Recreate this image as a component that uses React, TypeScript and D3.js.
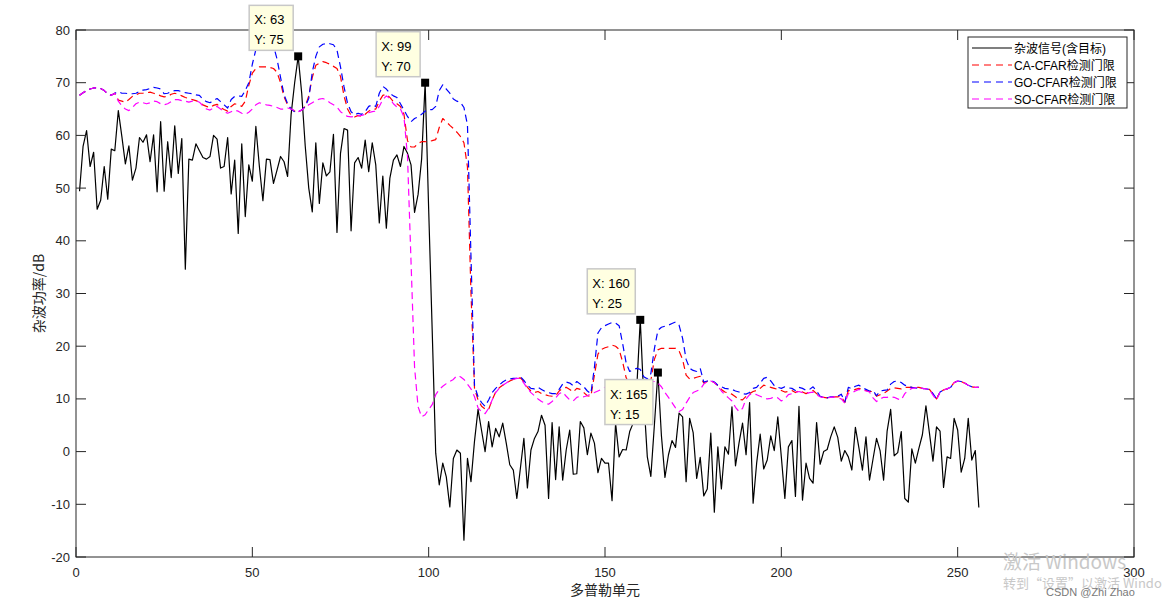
import React from "react";
import * as d3 from "d3";

// ---------- data (cell index 1..256) ----------
const signal: number[] = [
  49.4, 57.9, 60.9, 54.1, 56.8, 46.0, 47.7, 54.1, 47.9, 57.4,
  57.1, 64.7, 59.8, 54.6, 58.0, 51.5, 53.8, 59.6, 58.7, 60.1,
  55.0, 60.1, 49.3, 62.6, 49.4, 58.8, 52.0, 61.8, 52.8, 59.4,
  34.6, 55.5, 55.3, 58.4, 57.1, 55.8, 55.5, 56.0, 60.0, 59.3,
  53.8, 54.1, 59.6, 48.9, 55.3, 41.4, 58.4, 44.6, 54.4, 51.3,
  61.7, 54.1, 47.6, 55.5, 55.4, 50.9, 53.4, 56.0, 55.0, 52.2,
  64.0, 70.0, 75.0, 68.0, 58.0, 50.0, 45.5, 58.6, 47.1, 54.8,
  52.3, 53.1, 60.2, 41.6, 56.6, 61.3, 61.0, 41.9, 54.8, 55.8,
  53.8, 59.1, 53.1, 58.6, 54.4, 43.4, 52.3, 42.4, 51.9, 55.3,
  56.3, 54.1, 57.9, 56.6, 54.4, 45.4, 48.8, 55.5, 70.0, 46.0,
  23.0, -0.3, -6.3, -2.2, -4.8, -10.5, -1.3, 0.3, -0.3, -16.8,
  -1.3, -5.7, 2.0, 8.0, 4.0, 0.0, 5.7, 0.9, 4.4, 2.8,
  5.4, 1.6, -2.5, -3.5, -8.9, -3.2, 2.5, -6.9, 0.3, 2.5,
  3.8, 6.9, 5.0, -8.9, 5.5, -5.3, 4.7, -5.4, 0.3, 4.1,
  -4.3, -4.2, 5.7, 4.5, -0.6, 3.5, 1.6, -4.0, -1.3, -2.2,
  -2.2, -9.3, 5.4, -1.0, 0.4, 0.3, 3.8, 5.4, 12.0, 25.0,
  10.0, -1.0, -4.7, 5.0, 15.0, 3.0, -4.9, -0.6, 2.1, 0.8,
  7.3, 6.6, -5.7, 6.3, 3.6, -5.1, -1.1, -8.4, -7.1, 3.5,
  -11.5, 0.9, -7.1, 0.9, -0.5, 8.5, -2.7, 1.6, 5.4, -0.6,
  9.3, -9.8, -2.2, 3.3, -3.3, -1.6, 3.0, 0.2, 6.6, -1.0,
  -8.9, 0.9, 2.1, -8.5, 8.6, -9.2, -2.2, -5.1, -6.0, 5.5,
  -2.4, 0.0, 0.4, 2.8, 4.7, 2.7, -1.8, 0.2, -1.0, -3.5,
  4.6, 0.7, -3.5, 2.8, -5.4, -1.4, 2.5, 0.2, -5.4, 3.9,
  8.0, -0.8, -0.2, 3.8, -8.9, -9.6, 0.5, -2.2, 0.6, 3.2,
  8.7, 3.5, -1.8, 4.7, 3.9, -6.8, -1.0, -1.3, 6.3, 4.1,
  -3.9, -1.3, 6.3, -1.6, 0.2, -10.6,
];

const caThreshold: number[] = [
  67.6, 68.1, 68.5, 68.8, 69.0, 69.0, 68.9, 68.5, 67.9, 67.6,
  68.0, 66.7, 66.5, 66.3, 66.8, 67.4, 67.7, 68.0, 68.0, 68.1,
  68.2, 68.0, 67.8, 67.5, 67.3, 67.4, 67.8, 68.0, 67.8, 67.5,
  67.2, 67.0, 66.8, 66.6, 66.3, 65.8, 65.5, 65.3, 65.7, 65.9,
  65.3, 64.9, 64.6, 65.5, 66.0, 65.8, 65.5, 66.5, 69.5, 71.8,
  72.7, 73.0, 73.0, 73.0, 72.9, 72.7, 72.0, 70.0, 67.3, 65.8,
  65.0, 64.6, 64.5, 64.8, 65.5, 67.5, 71.0, 73.3, 73.7, 74.0,
  73.8, 73.5, 73.1, 72.7, 71.2, 67.5, 65.0, 63.8, 63.5, 63.8,
  63.6, 64.0, 64.6, 65.0, 65.0, 66.5, 67.6, 67.8, 67.2, 66.4,
  66.0, 65.5, 64.0, 59.0, 57.8, 57.8, 58.5, 58.8, 58.8, 58.9,
  59.0, 59.2, 61.5, 63.2, 62.6, 61.9, 61.3, 60.6, 59.8, 58.6,
  54.0, 30.0, 12.0, 9.8, 8.6, 8.1, 8.0, 9.8, 11.3, 12.1,
  12.6, 13.0, 13.4, 13.7, 13.9, 14.0, 13.3, 12.2, 11.5, 11.2,
  11.4, 11.0, 10.8, 10.6, 10.5, 10.6, 11.5, 12.0, 12.2, 11.8,
  11.3, 12.0, 11.8, 11.2, 10.6, 10.5, 14.5, 18.5, 19.4, 19.7,
  19.9, 20.2, 20.0, 19.4, 17.0, 14.0, 12.8, 13.2, 13.4, 13.3,
  12.5, 12.3, 13.5, 17.5, 19.3, 19.6, 19.6, 19.6, 19.6, 19.6,
  19.1, 17.5, 14.5, 13.8, 13.9, 14.1, 14.3, 13.0, 13.3, 13.4,
  13.1, 12.5, 11.8, 11.3, 11.1, 10.9, 10.4, 9.9, 9.8, 10.5,
  11.0, 11.4, 11.6, 12.0, 12.6, 12.4, 12.2, 12.0, 11.8, 11.6,
  11.3, 11.4, 11.6, 11.2, 11.6, 11.3, 11.0, 11.3, 11.6, 11.0,
  10.4, 10.3, 10.2, 10.4, 10.4, 10.4, 10.5, 9.3, 11.6, 11.5,
  11.8, 12.0, 11.8, 11.6, 11.4, 11.4, 10.5, 10.8, 11.0, 11.5,
  12.0, 12.1, 12.0, 11.9, 12.2, 12.2, 12.2, 12.2, 12.2, 12.0,
  11.9, 11.8, 10.9, 10.0, 11.3, 11.7, 11.9, 12.2, 13.1, 13.4,
  13.3, 13.0, 12.6, 12.3, 12.2, 12.2,
];

const goThreshold: number[] = [
  67.6, 68.1, 68.5, 68.8, 69.0, 69.0, 68.9, 68.5, 67.9, 67.6,
  68.0, 68.3, 68.0, 68.0, 67.9, 67.9, 68.0, 68.3, 68.6, 68.7,
  68.9, 69.1, 69.0, 68.8, 67.9, 68.0, 68.3, 68.5, 68.5, 68.3,
  68.1, 68.0, 67.9, 67.7, 67.6, 66.8, 66.4, 66.2, 66.6, 67.0,
  66.4, 65.8, 65.2, 66.8, 67.4, 67.5, 67.4, 68.5, 70.0, 73.5,
  76.3, 77.5, 77.6, 77.6, 77.5, 77.0, 74.5, 71.0, 67.7, 66.0,
  65.0, 64.5, 64.5, 64.8, 65.5, 67.0, 72.0, 75.0, 76.8, 77.3,
  77.4, 77.4, 77.2, 76.2, 73.0, 69.2, 66.1, 64.5, 63.9, 64.2,
  64.0, 64.5, 65.5, 65.8, 65.5, 68.0, 69.3, 68.8, 68.0, 67.5,
  67.2, 66.0, 64.8, 63.6, 62.6, 63.2, 63.5, 64.0, 64.6, 64.9,
  64.9, 65.5, 68.5, 69.6, 68.8, 68.0, 66.9, 66.5, 66.3, 65.3,
  62.0, 37.0, 12.5, 10.4, 9.3, 8.6, 9.8, 11.2, 12.0, 12.6,
  13.2, 13.6, 13.8, 13.9, 13.9, 14.2, 13.5, 12.6, 12.0, 11.9,
  12.2, 11.8, 11.4, 11.2, 11.0, 11.0, 11.8, 12.8, 13.2, 13.0,
  12.5, 13.3, 12.8, 12.3, 11.5, 11.0, 16.0, 22.5, 23.5, 23.9,
  24.2, 24.5, 24.4, 23.9, 20.5, 16.8, 15.2, 15.6, 15.8, 15.6,
  14.2, 13.8, 14.8, 19.5, 23.0, 23.6, 23.8, 24.0, 24.3, 24.6,
  24.0, 21.5, 17.5, 15.8, 15.4, 15.2, 15.8, 13.2, 13.4, 13.5,
  13.2, 12.6, 12.3, 12.0, 11.9, 11.8, 11.5, 11.3, 11.0, 10.9,
  11.2, 12.0, 12.2, 13.0, 13.9, 14.1, 13.4, 12.5, 12.2, 12.0,
  12.3, 12.1, 12.0, 11.6, 12.2, 12.0, 11.6, 11.8, 12.3, 11.5,
  10.5, 10.3, 10.2, 10.4, 10.4, 10.5, 10.9, 9.4, 12.2, 11.9,
  12.4, 12.6, 12.1, 11.8, 11.5, 11.6, 10.6, 11.5, 11.6, 11.7,
  12.8, 13.3, 13.4, 13.1, 12.6, 12.4, 12.2, 12.1, 12.0, 12.0,
  11.9, 11.8, 11.0, 10.0, 11.3, 11.7, 11.9, 12.2, 13.1, 13.4,
  13.3, 13.0, 12.6, 12.3, 12.2, 12.2,
];

const soThreshold: number[] = [
  67.6, 68.1, 68.5, 68.8, 69.0, 69.0, 68.9, 68.5, 67.9, 67.6,
  68.0, 66.5, 65.6, 65.0, 64.7, 65.3, 66.0, 66.3, 66.2, 66.0,
  66.2, 66.5, 66.4, 66.0, 65.8, 66.0, 66.4, 66.8, 66.8, 66.6,
  66.5, 66.3, 66.5, 66.6, 66.3, 65.6, 65.0, 64.8, 65.2, 65.5,
  65.0, 64.5, 64.2, 64.5, 64.8, 64.6, 64.2, 64.0, 64.4, 65.0,
  65.8, 66.2, 66.0, 65.8, 65.7, 65.5, 65.3, 65.0, 65.0, 65.2,
  65.0, 64.7, 64.5, 64.8, 65.3, 65.8, 66.2, 66.6, 66.9, 67.0,
  66.7, 66.2, 65.8, 65.4, 64.5, 64.0, 63.6, 63.5, 63.6, 63.7,
  63.8, 64.0, 64.3, 64.5, 64.6, 65.5, 66.8, 67.5, 67.0, 66.0,
  65.4, 65.0, 63.5, 56.0, 36.0, 16.0, 8.5, 6.6, 7.0, 8.0,
  8.9, 10.8, 11.8, 12.4, 12.9, 13.3, 13.7, 14.4, 14.2, 13.7,
  12.8, 11.9, 10.4, 8.3, 7.5, 7.2, 8.2, 9.8, 11.2, 12.0,
  12.6, 13.0, 13.5, 13.7, 13.9, 13.9, 13.0, 12.0, 11.2, 10.6,
  10.0, 9.5, 9.2, 9.0, 9.5, 10.2, 11.0, 11.3, 10.5, 9.8,
  9.6, 10.3, 10.5, 10.4, 10.6, 11.0, 11.2, 11.5, 11.8, 12.2,
  12.6, 12.9, 12.7, 12.3, 12.3, 12.5, 12.6, 12.8, 13.0, 13.2,
  13.3, 13.3, 13.3, 13.3, 13.0, 12.3, 11.2, 10.3, 9.3, 8.3,
  7.6, 8.0, 9.2, 10.3, 11.2, 11.5, 11.8, 12.8, 13.3, 13.4,
  13.1, 12.4, 11.5, 10.8, 10.2, 9.6, 8.4, 7.6, 8.2, 10.0,
  10.8, 11.0, 10.8, 10.5, 10.2, 10.0, 10.1, 10.4, 10.2, 9.6,
  10.0, 10.8, 11.0, 11.2, 11.4, 11.2, 11.0, 11.2, 11.3, 10.8,
  10.4, 10.3, 10.2, 10.3, 10.4, 10.2, 10.0, 9.2, 11.0, 11.2,
  11.5, 11.8, 11.7, 11.5, 11.3, 10.2, 9.5, 10.0, 10.3, 10.3,
  10.4, 10.3, 10.0, 9.8, 11.0, 11.6, 12.0, 12.1, 12.2, 12.0,
  11.9, 11.8, 10.7, 9.8, 11.3, 11.7, 11.9, 12.2, 13.1, 13.4,
  13.3, 13.0, 12.6, 12.3, 12.2, 12.2,
];

const xTicks = [0, 50, 100, 150, 200, 250, 300];
const yTicks = [-20, -10, 0, 10, 20, 30, 40, 50, 60, 70, 80];

const tipX = [63, 99, 160, 165];
const tipY = [75, 70, 25, 15];
const tipBelow = [false, false, false, true];

const seriesNames = ["杂波信号(含目标)", "CA-CFAR检测门限", "GO-CFAR检测门限", "SO-CFAR检测门限"];
const seriesColors = ["#000000", "#FF0000", "#0000FF", "#FF00FF"];

const W = 1166;
const H = 606;
const M = { left: 76, right: 1134, top: 30, bottom: 557 };
const FONT = "'Liberation Sans', Arial, 'Noto Sans CJK SC', sans-serif";
const CJK = "'Noto Sans CJK SC', 'Liberation Sans', sans-serif";
const AX = "#262626";

export default function App() {
  const x = d3.scaleLinear().domain([0, 300]).range([M.left, M.right]);
  const y = d3.scaleLinear().domain([-20, 80]).range([M.bottom, M.top]);
  const line = d3
    .line<number>()
    .x((_, i) => x(i + 1))
    .y((d) => y(d));

  const all = [signal, caThreshold, goThreshold, soThreshold];
  const dash = "7,4.5";

  const legX = 968, legY = 37, legW = 159, legH = 71;

  return (
    <svg
      width={W}
      height={H}
      style={{ position: "absolute", left: 0, top: 0, background: "#fff" }}
    >
      <defs>
        <clipPath id="clip">
          <rect x={M.left} y={M.top} width={M.right - M.left} height={M.bottom - M.top} />
        </clipPath>
      </defs>
      <rect x={0} y={0} width={W} height={H} fill="#fff" />

      {/* series */}
      <g clipPath="url(#clip)">
        {all.map((s, k) => (
          <path
            key={k}
            d={line(s) || ""}
            fill="none"
            stroke={seriesColors[k]}
            strokeWidth={1.2}
            strokeDasharray={k === 0 ? undefined : dash}
            strokeLinejoin="round"
          />
        ))}
      </g>

      {/* axes box */}
      <rect
        x={M.left}
        y={M.top}
        width={M.right - M.left}
        height={M.bottom - M.top}
        fill="none"
        stroke={AX}
        strokeWidth={1}
      />
      {xTicks.map((t) => (
        <g key={"x" + t}>
          <line x1={x(t)} x2={x(t)} y1={M.bottom} y2={M.bottom - 10} stroke={AX} />
          <line x1={x(t)} x2={x(t)} y1={M.top} y2={M.top + 10} stroke={AX} />
          <text x={x(t)} y={M.bottom + 20} textAnchor="middle" fontFamily={FONT} fontSize={13} fill={AX}>
            {t}
          </text>
        </g>
      ))}
      {yTicks.map((t) => (
        <g key={"y" + t}>
          <line x1={M.left} x2={M.left + 10} y1={y(t)} y2={y(t)} stroke={AX} />
          <line x1={M.right} x2={M.right - 10} y1={y(t)} y2={y(t)} stroke={AX} />
          <text x={M.left - 6} y={y(t) + 4.5} textAnchor="end" fontFamily={FONT} fontSize={13} fill={AX}>
            {t}
          </text>
        </g>
      ))}

      {/* axis labels */}
      <text x={605} y={595} textAnchor="middle" fontFamily={CJK} fontSize={14} fill={AX}>
        多普勒单元
      </text>
      <text
        transform={`translate(44,${(M.top + M.bottom) / 2}) rotate(-90)`}
        textAnchor="middle"
        fontFamily={CJK}
        fontSize={14}
        fill={AX}
      >
        杂波功率/dB
      </text>

      {/* data tips */}
      {tipX.map((tx, i) => {
        const mx = x(tx);
        const my = y(tipY[i]);
        const label = `X: ${tx}`;
        const bw = String(tx).length > 2 ? 48 : 44;
        const bh = 45;
        const bx = mx - 5 - bw;
        const by = tipBelow[i] ? my + 7 : my - 6 - bh;
        return (
          <g key={"tip" + i}>
            <rect x={mx - 4} y={my - 4} width={8} height={8} fill="#000" />
            <rect x={bx} y={by} width={bw} height={bh} fill="#FFFFE1" stroke="#C8C8C8" strokeWidth={1.5} />
            <text x={bx + 5} y={by + 19} fontFamily={FONT} fontSize={13} fill="#000">
              {label}
            </text>
            <text x={bx + 5} y={by + 39} fontFamily={FONT} fontSize={13} fill="#000">
              {`Y: ${tipY[i]}`}
            </text>
          </g>
        );
      })}

      {/* legend */}
      <rect x={legX} y={legY} width={legW} height={legH} fill="#fff" stroke={AX} strokeWidth={1} />
      {seriesNames.map((name, k) => {
        const cy = legY + 11 + k * 17;
        return (
          <g key={"leg" + k}>
            <line
              x1={legX + 4}
              x2={legX + 44}
              y1={cy}
              y2={cy}
              stroke={seriesColors[k]}
              strokeWidth={1.2}
              strokeDasharray={k === 0 ? undefined : "7,5"}
            />
            <text x={legX + 46} y={cy + 4.5} fontFamily={FONT} fontSize={12} fill="#000">
              {name}
            </text>
          </g>
        );
      })}

      {/* screen watermark (part of the captured picture) */}
      <text x={1003} y={569} fontFamily={CJK} fontSize={19} fill="#C8C8C8">
        激活 Windows
      </text>
      <text x={1003} y={588} fontFamily={CJK} fontSize={13} fill="#C8C8C8">
        转到“设置”以激活 Windo
      </text>
      <text x={1046} y={596} fontFamily={FONT} fontSize={11} fill="#7A7A7A">
        CSDN @Zhi Zhao
      </text>
    </svg>
  );
}
